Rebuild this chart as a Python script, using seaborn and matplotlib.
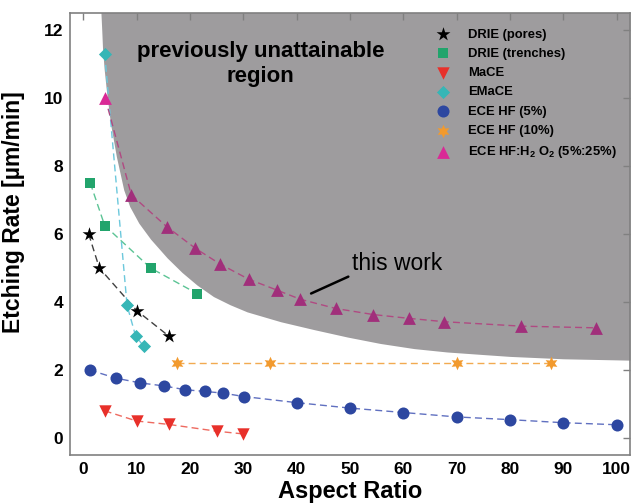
import numpy as np
import pandas as pd
import seaborn as sns
import matplotlib.pyplot as plt

# values
pores_x = [1, 3, 10, 16]
pores_y = [6.0, 5.0, 3.75, 3.0]

trench_x = [1.3, 4.0, 12.6, 21.3]
trench_y = [7.5, 6.25, 5.0, 4.25]

mace_x = [4, 10, 16, 25, 30]
mace_y = [0.8, 0.5, 0.4, 0.2, 0.12]

emace_x = [4.0, 8.2, 9.8, 11.3]
emace_y = [11.3, 3.9, 3.0, 2.7]

hf5_x = [1.2, 6.1, 10.7, 15.2, 19.1, 22.8, 26.2, 30.1, 40, 50, 60, 70, 80, 90, 100]
hf5_y = [2.0, 1.76, 1.62, 1.53, 1.42, 1.37, 1.32, 1.22, 1.04, 0.88, 0.75, 0.62, 0.54, 0.45, 0.39]

hf10_x = [17.6, 35, 70, 87.6]
hf10_y = [2.2, 2.2, 2.2, 2.2]

h2o2_x = [4.1, 9.0, 15.6, 21.0, 25.6, 31.0, 36.3, 40.7, 47.3, 54.4, 61.0, 67.7, 82.1, 96.2]
h2o2_y = [10.0, 7.15, 6.22, 5.58, 5.12, 4.67, 4.35, 4.08, 3.81, 3.63, 3.52, 3.42, 3.29, 3.24]

# edge of the shaded "unattainable" region
edge_x = [3.3, 3.45, 3.6, 3.9, 4.3, 5.07, 6.19, 7.57, 8.69, 10.4, 12.6, 15.7, 18.5, 21.3,
          24.4, 27.5, 30.7, 37, 43.2, 49.5, 55.7, 62, 68.2, 74.5, 80, 90, 102.5]
edge_y = [12.5, 12.0, 11.45, 10.85, 10.25, 9.27, 8.28, 7.30, 6.81, 6.32, 5.85, 5.30, 4.87, 4.50,
          4.16, 3.92, 3.71, 3.42, 3.19, 2.97, 2.78, 2.63, 2.53, 2.46, 2.40, 2.33, 2.29]

sns.set_style('white')
plt.rcParams['font.family'] = ['Liberation Sans', 'DejaVu Sans']
plt.rcParams['mathtext.fontset'] = 'custom'
plt.rcParams['mathtext.rm'] = 'Liberation Sans:bold'
plt.rcParams['mathtext.default'] = 'rm'
plt.rcParams['text.color'] = 'black'
plt.rcParams['axes.labelcolor'] = 'black'
plt.rcParams['xtick.labelcolor'] = 'black'
plt.rcParams['ytick.labelcolor'] = 'black'

fig = plt.figure(figsize=(6.33, 5.04), dpi=100)
ax = fig.add_axes([0.1106, 0.0972, 0.8847, 0.877])

ax.fill_between(edge_x, edge_y, 13, color='#9e9c9e', lw=0, zorder=0)

series = [
    # x, y, marker colour, line colour, marker, size, label
    (pores_x, pores_y, 'black', '#404040', '*', 110, 'DRIE (pores)'),
    (trench_x, trench_y, '#22a46c', '#5cc495', 's', 55, 'DRIE (trenches)'),
    (mace_x, mace_y, '#e8302a', '#ee6a60', 'v', 80, 'MaCE'),
    (emace_x, emace_y, '#36b6b6', '#6cc8dc', 'D', 45, 'EMaCE'),
    (hf5_x, hf5_y, '#2d47a0', '#6070c0', 'o', 75, 'ECE HF (5%)'),
    (hf10_x, hf10_y, '#f29a2e', '#f2aa50', (6, 1, 0), 95, 'ECE HF (10%)'),
]

for x, y, mc, lc, mk, sz, lab in series:
    df = pd.DataFrame({'x': x, 'y': y})
    sns.lineplot(data=df, x='x', y='y', color=lc, lw=1, ax=ax, zorder=2)
    ax.lines[-1].set_linestyle((0, (5, 3)))
    sns.scatterplot(data=df, x='x', y='y', color=mc, marker=mk, s=sz,
                    linewidth=0, label=lab, ax=ax, zorder=3)

df = pd.DataFrame({'x': h2o2_x, 'y': h2o2_y})
sns.lineplot(data=df, x='x', y='y', color='#b04a82', lw=1, ax=ax, zorder=2)
ax.lines[-1].set_linestyle((0, (5, 3)))
sns.scatterplot(data=df.iloc[1:], x='x', y='y', color='#a12f7b', marker='^', s=85,
                linewidth=0, ax=ax, zorder=3)
sns.scatterplot(data=df.iloc[:1], x='x', y='y', color='#d92a96', marker='^', s=85,
                linewidth=0, label=r'ECE HF:H$_2$ O$_2$ (5%:25%)', ax=ax, zorder=3)

ax.text(33.2, 11.0, 'previously unattainable\nregion', ha='center', va='center',
        fontsize=16, fontweight='bold', linespacing=1.2)
ax.annotate('this work', xy=(42.7, 4.25), xytext=(50.3, 4.79), fontsize=16.5,
            va='bottom', ha='left',
            arrowprops=dict(arrowstyle='-', lw=1.8, color='black',
                            shrinkA=0, shrinkB=0, relpos=(0, 0)))

ax.set_xlim(-2.5, 102.5)
ax.set_ylim(-0.5, 12.5)
ax.set_xticks(np.arange(0, 101, 10))
ax.set_yticks(np.arange(0, 13, 2))
ax.tick_params(direction='in', length=5, width=1, color='#808080', top=True, right=True,
               labelsize=12.5, pad=5)
for t in ax.get_xticklabels() + ax.get_yticklabels():
    t.set_fontweight('bold')
for s in ax.spines.values():
    s.set_color('#808080')
    s.set_linewidth(1.2)

ax.set_xlabel('Aspect Ratio', fontsize=17, fontweight='bold', labelpad=2)
ax.set_ylabel('Etching Rate [µm/min]', fontsize=16.5, fontweight='bold')
ax.yaxis.set_label_coords(-0.08, 0.55)

leg = ax.legend(loc='upper left', bbox_to_anchor=(0.643, 0.977), frameon=False,
                prop={'size': 9.4, 'weight': 'bold'}, handlelength=1.2,
                handletextpad=1.3, labelspacing=0.55, borderaxespad=0)

fig.savefig('out.png', dpi=100)
